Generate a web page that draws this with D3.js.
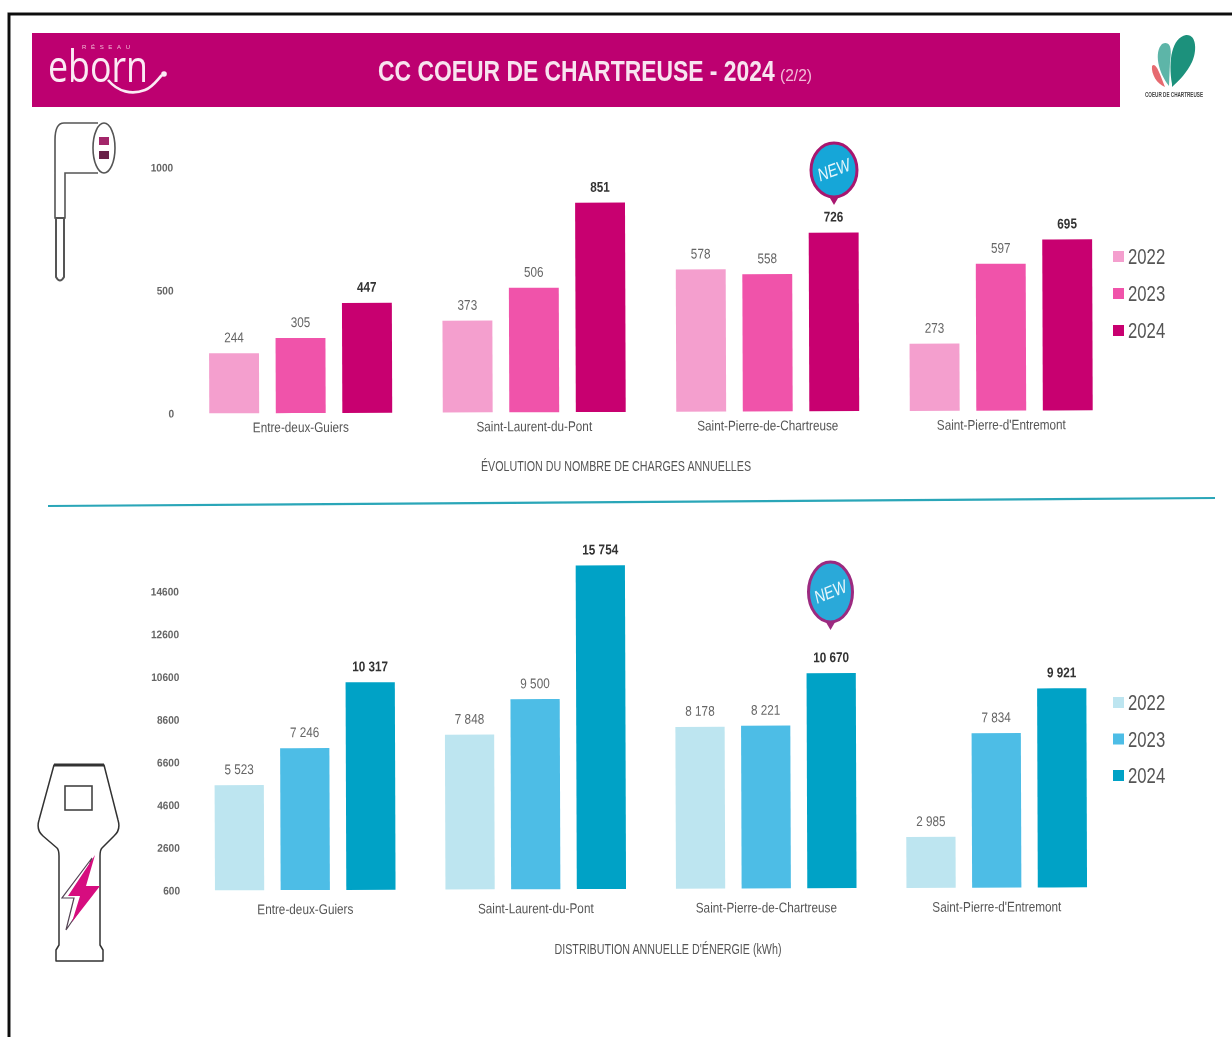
<!DOCTYPE html>
<html>
<head>
<meta charset="utf-8">
<script src="https://cdn.jsdelivr.net/npm/d3@7"></script>
<style>
  html, body { margin: 0; background: #fff; overflow: hidden; }
  text { font-family: "Liberation Sans", sans-serif; }
</style>
</head>
<body>
<div id="chart"></div>
<script>
// data
var communes = ["Entre-deux-Guiers", "Saint-Laurent-du-Pont", "Saint-Pierre-de-Chartreuse", "Saint-Pierre-d'Entremont"];
var years = ["2022", "2023", "2024"];

var charges2022 = [244, 373, 578, 273];
var charges2023 = [305, 506, 558, 597];
var charges2024 = [447, 851, 726, 695];
var chargeTicks = [0, 500, 1000];

var energy2022 = [5523, 7848, 8178, 2985];
var energy2023 = [7246, 9500, 8221, 7834];
var energy2024 = [10317, 15754, 10670, 9921];
var energyTicks = [600, 2600, 4600, 6600, 8600, 10600, 12600, 14600];

var pinkColors = ["#f49fce", "#f053aa", "#c8006f"];
var blueColors = ["#bde5f0", "#4dbde6", "#00a2c6"];

var svgWidth = 1232;
var svgHeight = 1037;

var svg = d3.select("#chart")
  .append("svg")
  .attr("width", svgWidth)
  .attr("height", svgHeight);

// the reference is a soft scan, so everything gets a small blur
svg.append("defs").append("filter")
  .attr("id", "scan")
  .append("feGaussianBlur")
  .attr("stdDeviation", 0.55);

var page = svg.append("g").attr("filter", "url(#scan)");

// squeezes text horizontally, the narrow font of the original is not available
function narrow(selection, ratio) {
  selection.each(function() {
    d3.select(this)
      .attr("textLength", this.getComputedTextLength() * ratio)
      .attr("lengthAdjust", "spacingAndGlyphs");
  });
}

// Page frame
page.append("path")
  .attr("d", "M9,1037V14H1232")
  .attr("fill", "none")
  .attr("stroke", "#111")
  .attr("stroke-width", 3);

// Header band
page.append("rect")
  .attr("x", 32).attr("y", 33)
  .attr("width", 1088).attr("height", 74)
  .attr("fill", "#bd0570");

var title = page.append("text")
  .attr("fill", "#f8e4f0")
  .attr("font-size", 29)
  .attr("font-weight", "bold")
  .text("CC COEUR DE CHARTREUSE - 2024");

// a transform and not textLength, so the box of the title stays true
title.attr("transform", `translate(378, 81) scale(${397 / title.node().getComputedTextLength()}, 1)`);

page.append("text")
  .attr("x", 780).attr("y", 81)
  .attr("fill", "#f3bcd9")
  .attr("font-size", 17)
  .attr("textLength", 32)
  .attr("lengthAdjust", "spacingAndGlyphs")
  .text("(2/2)");

// eborn logo
page.append("text")
  .attr("x", 82).attr("y", 49)
  .attr("fill", "#f3bcd9")
  .attr("font-size", 6)
  .attr("textLength", 48)
  .text("RÉSEAU");

page.append("text")
  .attr("x", 48).attr("y", 82)
  .attr("fill", "#fbeaf4")
  .attr("font-size", 44)
  .attr("textLength", 100)
  .attr("lengthAdjust", "spacingAndGlyphs")
  .style("font-family", "'Open Sans', sans-serif")
  .text("eborn");

page.append("path")
  .attr("d", "M108,80C118,92 132,95 145,90C153,87 157,80 162,75")
  .attr("fill", "none")
  .attr("stroke", "#fbeaf4")
  .attr("stroke-width", 2.6);

page.append("circle")
  .attr("cx", 164).attr("cy", 74).attr("r", 2.8)
  .attr("fill", "#fbeaf4");

// Community logo
var leaves = [
  { d: "M1172,84C1168,60 1172,38 1186,35C1197,34 1197,52 1192,62C1187,72 1180,80 1172,87Z", fill: "#1f917c" },
  { d: "M1169,86C1158,72 1154,52 1162,44C1171,40 1172,50 1170,62Z", fill: "#5db5a8" },
  { d: "M1165,87C1157,84 1151,74 1152,66C1156,62 1159,72 1165,87Z", fill: "#e66a6f" }
];

page.append("g").selectAll("path")
  .data(leaves)
  .enter()
  .append("path")
  .attr("d", d => d.d)
  .attr("fill", d => d.fill);

page.append("text")
  .attr("x", 1145).attr("y", 97)
  .attr("fill", "#444")
  .attr("font-size", 6.5)
  .attr("font-weight", "bold")
  .attr("textLength", 58)
  .attr("lengthAdjust", "spacingAndGlyphs")
  .text("COEUR DE CHARTREUSE");

// Plug icon
page.append("path")
  .attr("d", "M98,123H64Q55,123 55,140V218H65V173H98")
  .attr("fill", "#fff")
  .attr("stroke", "#555")
  .attr("stroke-width", 1.6);

page.append("path")
  .attr("d", "M56,218H64V277Q60,284 56,277Z")
  .attr("fill", "#fff")
  .attr("stroke", "#555")
  .attr("stroke-width", 2);

page.append("ellipse")
  .attr("cx", 104).attr("cy", 148)
  .attr("rx", 11).attr("ry", 25)
  .attr("fill", "#fff")
  .attr("stroke", "#555")
  .attr("stroke-width", 1.6);

page.append("rect").attr("x", 99).attr("y", 137).attr("width", 10).attr("height", 8).attr("fill", "#a3286b");
page.append("rect").attr("x", 99).attr("y", 151).attr("width", 10).attr("height", 8).attr("fill", "#6b2448");

// Charging station icon
page.append("path")
  .attr("d", "M54,765H104L118,820Q121,830 114,836L102,848Q100,850 100,856V945L103,950V961H56V950L59,945V856Q59,850 57,848L43,836Q36,830 39,820Z")
  .attr("fill", "#fff")
  .attr("stroke", "#333")
  .attr("stroke-width", 1.5)
  .attr("stroke-linejoin", "round");

page.append("path")
  .attr("d", "M54,765H104")
  .attr("stroke", "#333")
  .attr("stroke-width", 3);

page.append("rect")
  .attr("x", 65).attr("y", 786)
  .attr("width", 27).attr("height", 24)
  .attr("fill", "#fff")
  .attr("stroke", "#444")
  .attr("stroke-width", 1.6);

page.append("path")
  .attr("d", "M92,858L62,898H74L66,930L92,892H80Z")
  .attr("fill", "#fff")
  .attr("stroke", "#554455")
  .attr("stroke-width", 1.2);

page.append("path")
  .attr("d", "M95,855L68,896H80L72,922L100,886H86Z")
  .attr("fill", "#d6107f");

// draws one grouped bar chart
function drawChart(opts) {
  var y = d3.scaleLinear()
    .domain(opts.domain)
    .range(opts.range);

  var x0 = d3.scaleBand()
    .domain(communes)
    .range(opts.xRange);

  var x1 = d3.scaleBand()
    .domain(years)
    .range([0, x0.bandwidth()])
    .paddingInner(0.25)
    .paddingOuter(0.38);

  var color = d3.scaleOrdinal()
    .domain(years)
    .range(opts.colors);

  // the scan leans a little to the left
  var chartGroup = page.append("g")
    .attr("transform", `rotate(-0.2, 600, ${opts.range[0]})`);

  var leftAxis = d3.axisLeft(y)
    .tickValues(opts.ticks)
    .tickSize(0)
    .tickPadding(0)
    .tickFormat(d3.format("d"));

  var yAxis = chartGroup.append("g")
    .attr("transform", `translate(${opts.axisX}, 0)`)
    .call(leftAxis);
  yAxis.select(".domain").remove();
  yAxis.selectAll("text")
    .attr("fill", "#666")
    .attr("font-size", 11)
    .style("font-family", "'Liberation Sans', sans-serif")
    .style("font-weight", "bold")
    .call(narrow, 0.92);

  var bottomAxis = d3.axisBottom(x0)
    .tickSize(0)
    .tickPadding(0);

  var xAxis = chartGroup.append("g")
    .attr("transform", `translate(0, ${opts.range[0] + opts.labelGap})`)
    .call(bottomAxis);
  xAxis.select(".domain").remove();
  xAxis.selectAll("text")
    .attr("fill", "#555")
    .attr("font-size", 14)
    .style("font-family", "'Liberation Sans', sans-serif")
    .call(narrow, 0.84);

  var rows = [];
  communes.forEach(function(c, i) {
    years.forEach(function(yr, j) {
      rows.push({ commune: c, year: yr, value: opts.series[j][i] });
    });
  });

  chartGroup.selectAll(".bar")
    .data(rows)
    .enter()
    .append("rect")
    .attr("class", "bar")
    .attr("x", d => x0(d.commune) + x1(d.year))
    .attr("y", d => y(d.value))
    .attr("width", x1.bandwidth())
    .attr("height", d => opts.range[0] - y(d.value))
    .attr("fill", d => color(d.year));

  chartGroup.selectAll(".value")
    .data(rows)
    .enter()
    .append("text")
    .attr("class", "value")
    .attr("x", d => x0(d.commune) + x1(d.year) + x1.bandwidth() / 2)
    .attr("y", d => y(d.value) - 11)
    .attr("text-anchor", "middle")
    .attr("font-size", 14)
    .attr("font-weight", d => d.year == "2024" ? "bold" : "normal")
    .attr("fill", d => d.year == "2024" ? "#333" : "#666")
    .text(d => opts.format(d.value))
    .call(narrow, 0.84);

  // chart caption
  page.append("text")
    .attr("x", opts.captionX)
    .attr("y", opts.captionY)
    .attr("text-anchor", "middle")
    .attr("fill", "#555")
    .attr("font-size", 14)
    .text(opts.caption)
    .call(narrow, 0.765);

  // legend
  var legend = page.append("g").selectAll("g")
    .data(years)
    .enter()
    .append("g")
    .attr("transform", (d, i) => `translate(1113, ${opts.legendY + i * opts.legendStep})`);

  legend.append("rect")
    .attr("y", -6)
    .attr("width", 11).attr("height", 11)
    .attr("fill", d => color(d));

  legend.append("text")
    .attr("x", 15).attr("y", 7)
    .attr("fill", "#555")
    .attr("font-size", 22)
    .text(d => d)
    .call(narrow, 0.76);
}

var spaced = function(v) {
  return d3.format(",")(v).replace(",", " ");
};

drawChart({
  domain: [0, 1000],
  range: [412, 166],
  xRange: [184, 1118],
  axisX: 174,
  labelGap: 9,
  ticks: chargeTicks,
  colors: pinkColors,
  series: [charges2022, charges2023, charges2024],
  format: d3.format("d"),
  caption: "ÉVOLUTION DU NOMBRE DE CHARGES ANNUELLES",
  captionX: 616,
  captionY: 471,
  legendY: 257,
  legendStep: 37
});

drawChart({
  domain: [600, 14600],
  range: [889, 590],
  xRange: [190, 1112],
  axisX: 180,
  labelGap: 14,
  ticks: energyTicks,
  colors: blueColors,
  series: [energy2022, energy2023, energy2024],
  format: spaced,
  caption: "DISTRIBUTION ANNUELLE D'ÉNERGIE (kWh)",
  captionX: 668,
  captionY: 954,
  legendY: 703,
  legendStep: 36.5
});

// Teal divider
page.append("line")
  .attr("x1", 48).attr("y1", 506)
  .attr("x2", 1215).attr("y2", 498)
  .attr("stroke", "#2aa6b8")
  .attr("stroke-width", 2.2);

// NEW pins
var pins = [
  { x: 834, y: 170, rx: 23, ry: 27, angle: -20, fill: "#17a6d8", stroke: "#a8176f" },
  { x: 830.5, y: 592, rx: 22, ry: 30, angle: -22, fill: "#2aa9d9", stroke: "#9c2a80" }
];

var pin = page.append("g").selectAll("g")
  .data(pins)
  .enter()
  .append("g")
  .attr("transform", d => `translate(${d.x}, ${d.y})`);

pin.append("path")
  .attr("d", d => `M-7,${d.ry - 4}L0,${d.ry + 8}L7,${d.ry - 4}Z`)
  .attr("fill", d => d.stroke);

pin.append("ellipse")
  .attr("rx", d => d.rx)
  .attr("ry", d => d.ry)
  .attr("fill", d => d.fill)
  .attr("stroke", d => d.stroke)
  .attr("stroke-width", 3);

pin.append("text")
  .attr("transform", d => `rotate(${d.angle})`)
  .attr("y", 6)
  .attr("text-anchor", "middle")
  .attr("fill", "#e8f6fb")
  .attr("font-size", 18)
  .attr("font-style", "italic")
  .text("NEW")
  .call(narrow, 0.8);
</script>
</body>
</html>
